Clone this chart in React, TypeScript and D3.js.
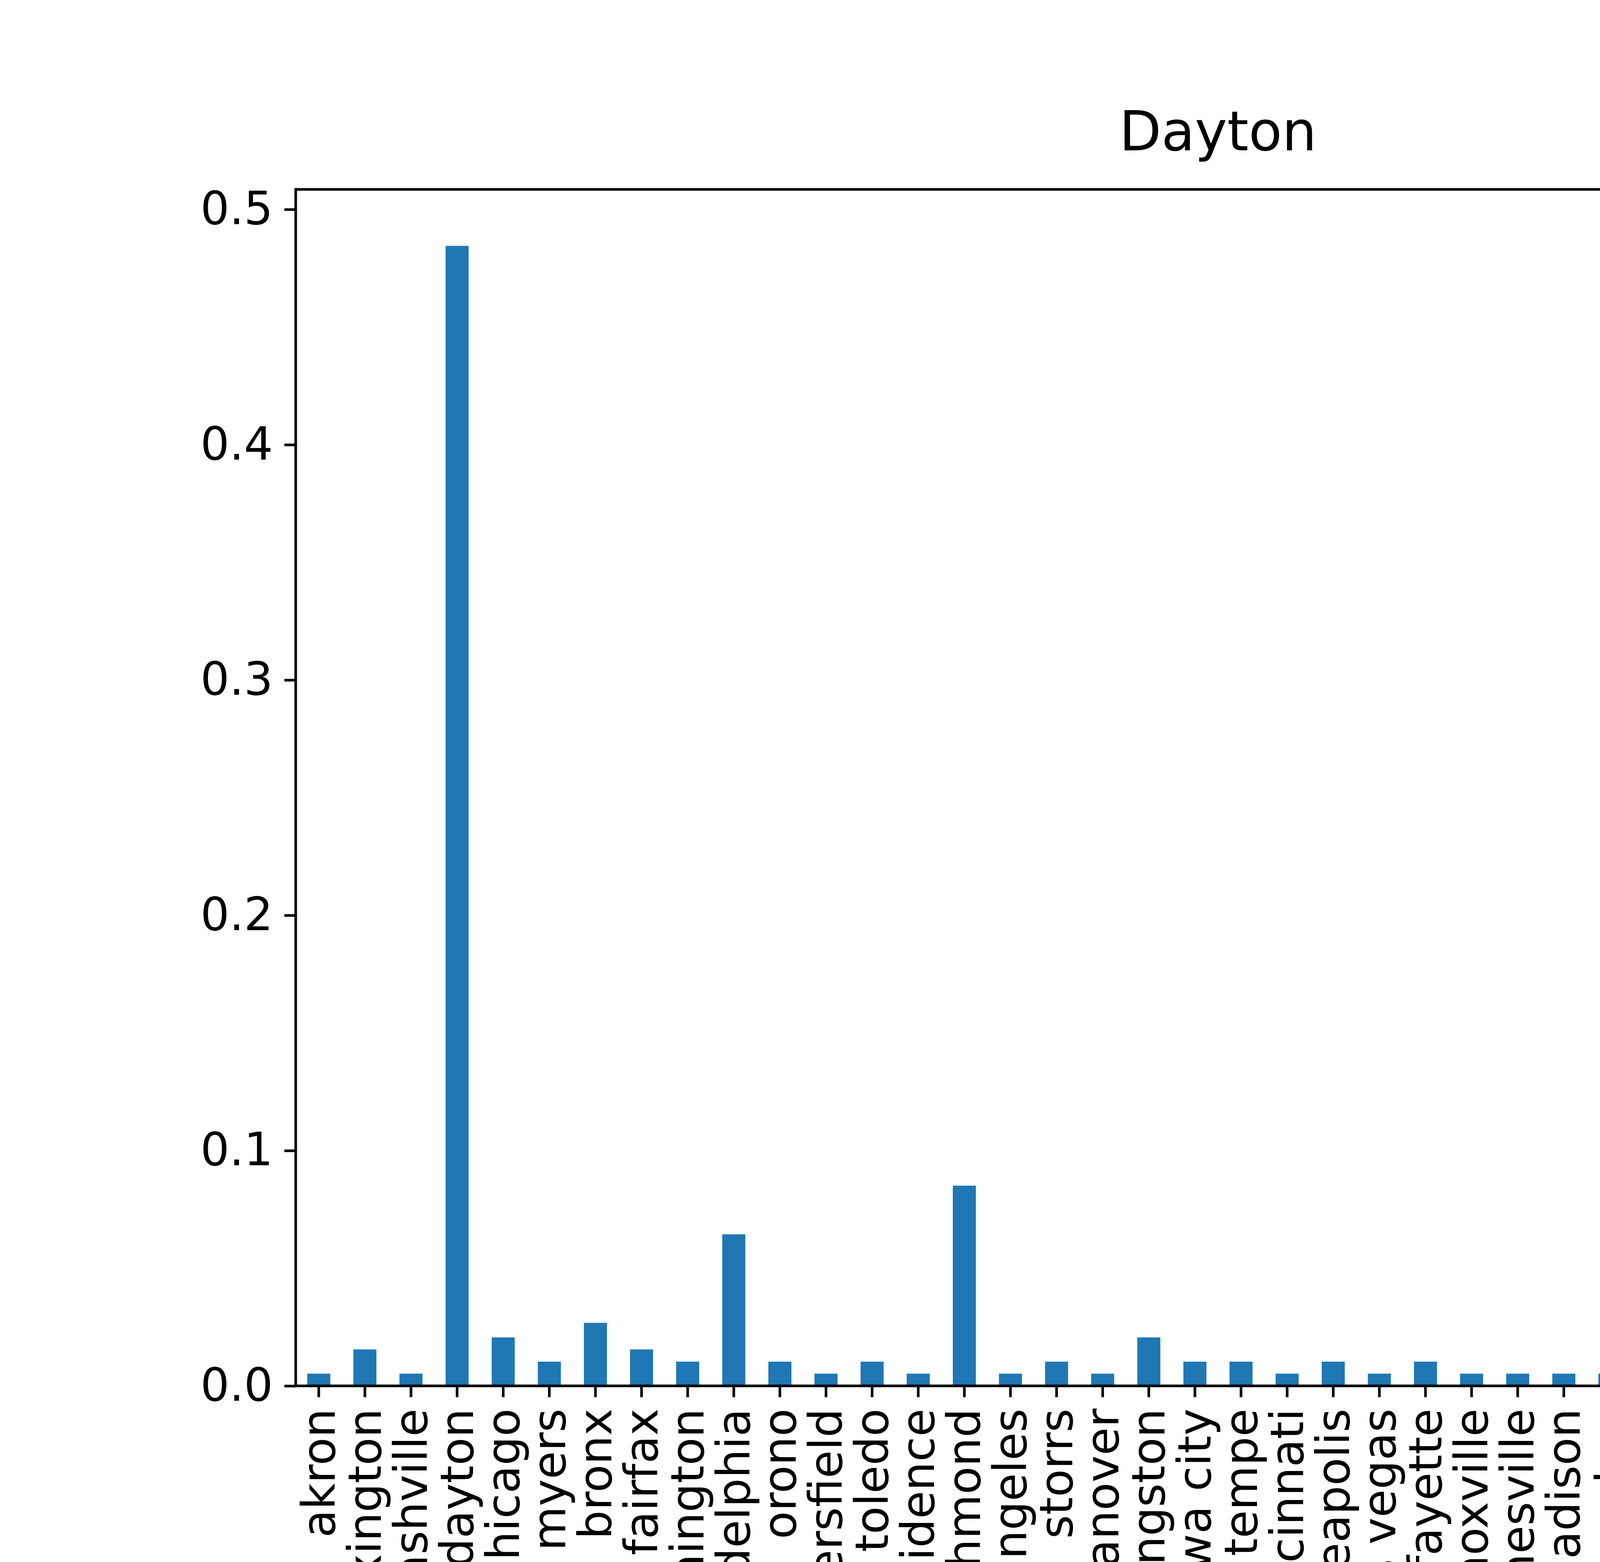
import * as d3 from 'd3'
import React, { useEffect, useRef } from 'react'

const cities = [
  'akron', 'lexington', 'nashville', 'dayton', 'chicago', 'fort myers', 'bronx', 'fairfax',
  'washington', 'philadelphia', 'orono', 'bakersfield', 'toledo', 'providence', 'richmond',
  'los angeles', 'storrs', 'hanover', 'kingston', 'iowa city', 'tempe', 'cincinnati',
  'minneapolis', 'las vegas', 'lafayette', 'knoxville', 'gainesville', 'madison', 'princeton',
  'pittsburgh', 'indianapolis', 'jacksonville', 'queens', 'oxford', 'albany', 'jersey city',
  'davidson', 'marlboro', 'lowell', 'college park',
]
const winRate = [
  0.0052, 0.0155, 0.0052, 0.4845, 0.0206, 0.0103, 0.0268, 0.0155,
  0.0103, 0.0644, 0.0103, 0.0052, 0.0103, 0.0052, 0.0851,
  0.0052, 0.0103, 0.0052, 0.0206, 0.0103, 0.0103, 0.0052,
  0.0103, 0.0052, 0.0103, 0.0052, 0.0052, 0.0052, 0.0052,
  0.0206, 0.0052, 0.0052, 0.0052, 0.0052, 0.0052, 0.0103,
  0.0155, 0.0052, 0.0155, 0.0103,
]
const yTicks = [0, 0.1, 0.2, 0.3, 0.4, 0.5]

const W = 6000
const H = 4000
const margin = { top: 485, right: 521, bottom: 451, left: 757 }
const font = 'DejaVu Sans'

const App = () => {
  const ref = useRef(null)

  useEffect(() => {
    if (!ref.current) return
    const svg = d3.select(ref.current)
    svg.selectAll('*').remove()
    const x0 = margin.left
    const x1 = W - margin.right
    const y0 = H - margin.bottom
    const y1 = margin.top

    const x = d3.scaleBand().domain(cities).range([x0, x1]).paddingInner(0.5).paddingOuter(0.25)
    const y = d3.scaleLinear().domain([0, 0.5085]).range([y0, y1])

    svg.append('rect').attr('width', W).attr('height', H).attr('fill', '#fff')

    svg
      .append('g')
      .selectAll('rect')
      .data(winRate)
      .join('rect')
      .attr('x', (_, i) => x(cities[i]) as number)
      .attr('width', x.bandwidth())
      .attr('y', (d) => y(d))
      .attr('height', (d) => y0 - y(d))
      .attr('fill', '#1f77b4')

    // y axis
    const ya = svg.append('g').attr('transform', `translate(${x0},0)`)
    ya.call(d3.axisLeft(y).tickValues(yTicks).tickFormat(d3.format('.1f')).tickSize(29).tickPadding(29))
    ya.select('.domain').remove()
    ya.selectAll('line').attr('stroke', '#000').attr('stroke-width', 6.7)
    ya.selectAll('text').attr('font-family', font).attr('font-size', 117).attr('fill', '#000')

    // x axis
    const xa = svg.append('g').attr('transform', `translate(0,${y0})`)
    xa.call(d3.axisBottom(x).tickSize(29).tickPadding(0))
    xa.select('.domain').remove()
    xa.selectAll('line').attr('stroke', '#000').attr('stroke-width', 6.7)
    xa.selectAll('text')
      .attr('font-family', font)
      .attr('font-size', 117)
      .attr('fill', '#000')
      .attr('text-anchor', 'end')
      .attr('dy', null)
      .attr('dominant-baseline', 'central')
      .attr('transform', 'translate(0,58) rotate(-90)')
      .attr('x', 0)
      .attr('y', 0)

    svg
      .append('rect')
      .attr('x', x0)
      .attr('y', y1)
      .attr('width', x1 - x0)
      .attr('height', y0 - y1)
      .attr('fill', 'none')
      .attr('stroke', '#000')
      .attr('stroke-width', 6.7)

    svg
      .append('text')
      .attr('x', (x0 + x1) / 2)
      .attr('y', 385)
      .attr('text-anchor', 'middle')
      .attr('font-family', font)
      .attr('font-size', 140)
      .text('Dayton')

    // legend
    const lg = svg.append('g')
    lg.append('rect')
      .attr('x', 4302).attr('y', 555).attr('width', 1103).attr('height', 253).attr('rx', 25)
      .attr('fill', '#fff').attr('stroke', '#d0d0d0').attr('stroke-width', 6.7)
    lg.append('rect').attr('x', 4357).attr('y', 621).attr('width', 283).attr('height', 97).attr('fill', '#1f77b4')
    lg.append('text')
      .attr('x', 4757).attr('y', 670).attr('dominant-baseline', 'central')
      .attr('font-family', font).attr('font-size', 117).text('win_rate')
  }, [])

  return (
    <div style={{ position: 'absolute', left: 0, top: 0 }}>
      <svg ref={ref} width={W} height={H} style={{ display: 'block' }} />
    </div>
  )
}

export default App
